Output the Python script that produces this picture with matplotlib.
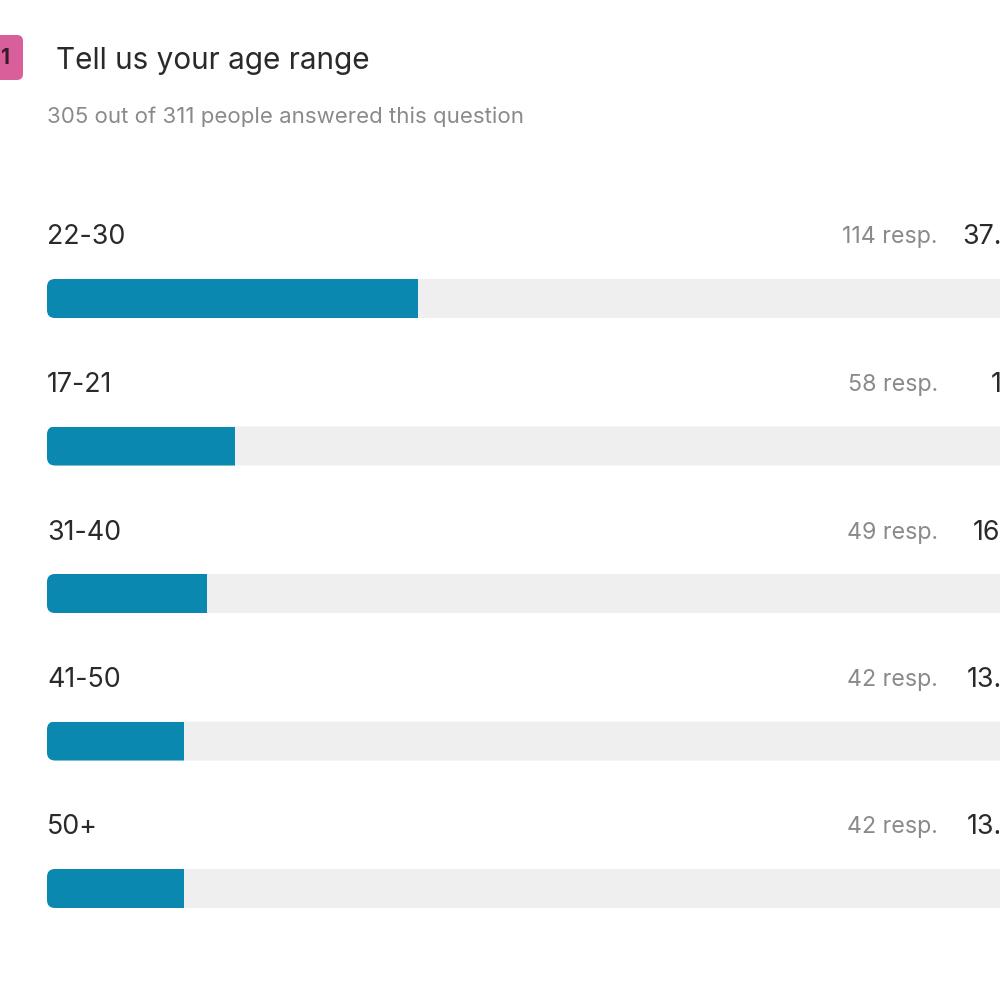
import matplotlib
matplotlib.use("Agg")
import matplotlib.pyplot as plt
from matplotlib.patches import FancyBboxPatch

plt.rcParams['font.family'] = ['Inter', 'DejaVu Sans']

title = "Tell us your age range"
subtitle = "305 out of 311 people answered this question"
question_no = "1"
categories = ["22-30", "17-21", "31-40", "41-50", "50+"]
responses = [114, 58, 49, 42, 42]
answered = 305
percents = [round(r / answered * 100, 1) for r in responses]


def fmt_pct(p):
    s = f"{p:.1f}"
    if s.endswith(".0"):
        s = s[:-2]
    return s + "%"


FILL = "#0a88b0"
TRACK = "#efefef"
DARK = "#2a2a2a"
GREY = "#8a8a8a"

fig = plt.figure(figsize=(10, 10), dpi=100)
fig.patch.set_facecolor("white")

# axes: x 0..100 maps to pixel 47..1039
ax = fig.add_axes([0.047, 0.03775, 0.992, 0.7375])
ax.set_xlim(0, 100)
ax.set_ylim(len(categories) - 0.5, -0.5)
ax.axis("off")

px_x = 9.92      # pixels per x unit
px_y = 147.5     # pixels per y unit
bar_h = 39 / px_y
r = 8 / px_x
aspect = px_x / px_y
label_dy = 61.0 / px_y

for i, (cat, n, p) in enumerate(zip(categories, responses, percents)):
    track = FancyBboxPatch((0, i - bar_h / 2), 100, bar_h,
                           boxstyle=f"round,pad=0,rounding_size={r}",
                           mutation_aspect=aspect, facecolor=TRACK,
                           edgecolor="none", clip_on=False)
    ax.add_patch(track)
    bars = ax.barh(i, p, height=bar_h, left=0, color=FILL, edgecolor="none")
    for b in bars:
        b.set_clip_path(track)
    ax.text(0, i - label_dy, cat, ha="left", va="center",
            fontsize=19.3, color=DARK)
    ax.text(89.8, i - label_dy, f"{n} resp.", ha="right", va="center",
            fontsize=16.7, color=GREY)
    ax.text(100.6, i - label_dy, fmt_pct(p), ha="right", va="center",
            fontsize=19.3, color=DARK, clip_on=False)

# badge
badge = FancyBboxPatch((-0.03, 1 - 0.080), 0.053, 0.045,
                       boxstyle="round,pad=0,rounding_size=0.006",
                       transform=fig.transFigure, facecolor="#d95f9b",
                       edgecolor="none")
fig.patches.append(badge)
fig.text(0.005, 1 - 0.0585, question_no, ha="center", va="center",
         fontsize=15, color="#3a1a2a", fontweight="bold")

fig.text(0.056, 1 - 0.061, title, ha="left", va="center",
         fontsize=21.4, color=DARK)
fig.text(0.047, 1 - 0.1165, subtitle, ha="left", va="center",
         fontsize=16, color=GREY)

fig.savefig("out.png", dpi=100, facecolor="white")
